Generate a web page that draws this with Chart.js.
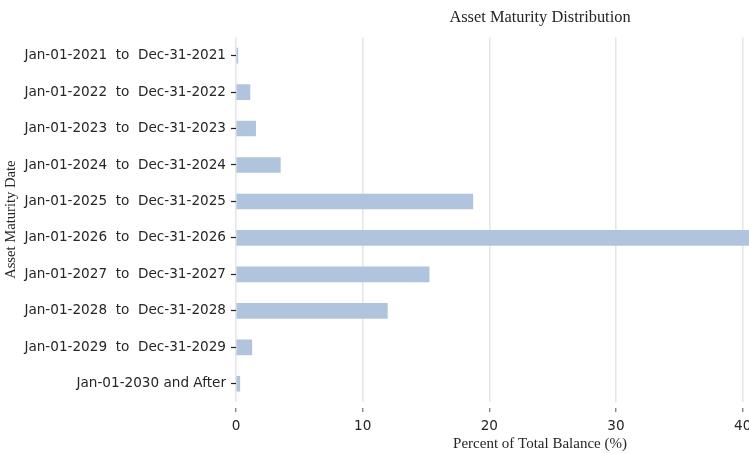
<!DOCTYPE html>
<html>
<head>
<meta charset="utf-8">
<script src="https://cdn.jsdelivr.net/npm/chart.js@4"></script>
<style>
    html, body { margin: 0; padding: 0; background: #fff; overflow: hidden; }
    #wrap { width: 860px; height: 454px; }
</style>
</head>
<body>
<div id="wrap"><canvas id="maturityChart"></canvas></div>
<script>
const maturityBuckets = [
    'Jan-01-2021  to  Dec-31-2021',
    'Jan-01-2022  to  Dec-31-2022',
    'Jan-01-2023  to  Dec-31-2023',
    'Jan-01-2024  to  Dec-31-2024',
    'Jan-01-2025  to  Dec-31-2025',
    'Jan-01-2026  to  Dec-31-2026',
    'Jan-01-2027  to  Dec-31-2027',
    'Jan-01-2028  to  Dec-31-2028',
    'Jan-01-2029  to  Dec-31-2029',
    'Jan-01-2030 and After'
];
const balancePct = [0.15, 1.1, 1.55, 3.5, 18.7, 45.8, 15.25, 11.95, 1.25, 0.3];
const xTicks = [0, 10, 20, 30, 40];

const textColor = '#262626';
const tickFont = { family: 'DejaVu Sans', size: 13.6 };

document.addEventListener('DOMContentLoaded', () => {
    const ctx = document.getElementById('maturityChart').getContext('2d');

    new Chart(ctx, {
        type: 'bar',
        data: {
            labels: maturityBuckets,
            datasets: [{
                data: balancePct,
                backgroundColor: '#b0c4de',
                borderWidth: 0,
                barThickness: 15
            }]
        },
        options: {
            indexAxis: 'y',
            responsive: true,
            maintainAspectRatio: false,
            animation: false,
            layout: { padding: { top: 0, bottom: 0, left: 0, right: 16 } },
            scales: {
                x: {
                    min: 0,
                    max: 48,
                    z: 1, // grid drawn over the bars
                    border: { display: false },
                    grid: {
                        color: 'rgba(128, 128, 128, 0.2)',
                        lineWidth: 1.6,
                        tickLength: 10,
                        tickColor: '#555',
                        tickWidth: 1,
                        tickBorderDash: [0, 6, 4]
                    },
                    ticks: {
                        stepSize: 10,
                        includeBounds: false,
                        color: textColor,
                        font: tickFont,
                        padding: 6,
                        maxRotation: 0,
                        callback: (v) => xTicks.includes(v) ? String(v) : ''
                    },
                    title: {
                        display: true,
                        text: 'Percent of Total Balance (%)',
                        color: textColor,
                        font: { family: 'Liberation Serif', size: 15 },
                        padding: { top: 0, bottom: 0.5 }
                    },
                    afterFit: (axis) => { axis.height = 52; }
                },
                y: {
                    border: { display: false },
                    grid: {
                        drawOnChartArea: false,
                        offset: false,
                        tickLength: 5,
                        tickColor: '#222',
                        tickWidth: 1.2
                    },
                    ticks: {
                        color: textColor,
                        font: tickFont,
                        padding: 5,
                        autoSkip: false
                    },
                    title: {
                        display: true,
                        text: 'Asset Maturity Date',
                        color: textColor,
                        font: { family: 'Liberation Serif', size: 14.6 },
                        padding: { top: 2, bottom: 0 }
                    },
                    afterFit: (axis) => { axis.width = 236; }
                }
            },
            plugins: {
                legend: { display: false },
                tooltip: { enabled: false },
                title: {
                    display: true,
                    text: 'Asset Maturity Distribution',
                    color: textColor,
                    fullSize: false,
                    font: { family: 'Liberation Serif', size: 16.4, weight: 'normal' },
                    padding: { top: 8.2, bottom: 9.5 }
                }
            }
        }
    });
});
</script>
</body>
</html>
